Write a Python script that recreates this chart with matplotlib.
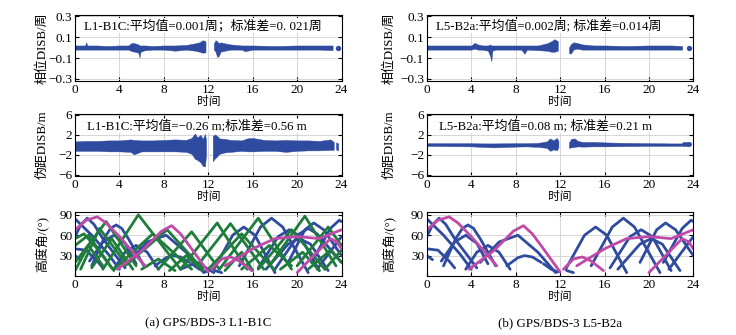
import matplotlib
matplotlib.use('Agg')
import matplotlib.pyplot as plt

plt.rcParams['font.family'] = ['Liberation Serif', 'Noto Sans CJK SC']
plt.rcParams['axes.unicode_minus'] = True

BLUE = '#2f4ba0'
GREEN = '#1f7d3c'
MAG = '#c04aa8'

# ---- phase DISB (cycles), envelope of the scatter band ----
ph_a_t1 = [0, 0.9, 1.0, 1.1, 2, 3, 4, 4.8, 5.1, 5.4, 5.7, 5.8, 5.9, 6.3, 7, 8, 9, 10, 10.8, 11.2, 11.5, 11.75]
ph_a_up1 = [0.02, 0.02, 0.05, 0.02, 0.02, 0.015, 0.02, 0.02, 0.045, 0.04, 0.03, 0.02, 0.02, 0.02, 0.015, 0.02, 0.02, 0.025, 0.04, 0.05, 0.07, 0.06]
ph_a_lo1 = [-0.02, -0.02, -0.02, -0.02, -0.02, -0.02, -0.02, -0.02, -0.035, -0.04, -0.05, -0.095, -0.04, -0.025, -0.02, -0.02, -0.03, -0.02, -0.03, -0.04, -0.05, -0.045]
ph_a_t2 = [12.5, 12.65, 12.8, 12.95, 13.1, 13.5, 14, 15, 15.3, 16, 18, 20, 22, 23.2]
ph_a_up2 = [0.04, 0.07, 0.06, 0.04, 0.05, 0.04, 0.03, 0.02, 0.02, 0.02, 0.015, 0.02, 0.02, 0.02]
ph_a_lo2 = [-0.02, -0.04, -0.09, -0.08, -0.04, -0.03, -0.02, -0.02, -0.035, -0.02, -0.02, -0.02, -0.02, -0.025]
ph_a_dots_t = [23.7]
ph_a_dots_v = [0.0]

ph_b_t1 = [0, 2, 4, 4.3, 4.6, 5, 5.5, 5.7, 5.8, 5.9, 6.2, 7, 8.5, 8.8, 9.0, 10, 10.8, 11.2, 11.5, 11.8]
ph_b_up1 = [0.02, 0.02, 0.02, 0.045, 0.03, 0.02, 0.02, 0.03, 0.02, 0.02, 0.02, 0.02, 0.02, 0.02, 0.02, 0.02, 0.04, 0.06, 0.08, 0.06]
ph_b_lo1 = [-0.02, -0.02, -0.02, -0.01, -0.02, -0.02, -0.03, -0.08, -0.13, -0.03, -0.02, -0.02, -0.02, -0.06, -0.02, -0.025, -0.03, -0.04, -0.04, -0.03]
ph_b_t2 = [12.8, 12.95, 13.2, 13.5, 14, 15, 16, 18, 20, 22, 23.0]
ph_b_up2 = [0.0, 0.03, 0.05, 0.045, 0.03, 0.02, 0.02, 0.015, 0.02, 0.02, 0.015]
ph_b_lo2 = [-0.05, -0.06, -0.02, -0.01, -0.02, -0.02, -0.02, -0.02, -0.02, -0.02, -0.02]
ph_b_dots_t = [23.6]
ph_b_dots_v = [0.0]

# ---- code DISB (m) ----
cd_a_t1 = [0, 1, 2, 3, 4, 5, 5.3, 6, 7, 8, 9, 10, 10.5, 10.8, 11.0, 11.3, 11.5, 11.7, 11.8]
cd_a_up1 = [0.7, 0.8, 0.8, 0.9, 0.9, 1.1, 1.0, 0.9, 0.9, 1.0, 1.1, 1.0, 1.4, 2.3, 1.5, 2.0, 1.2, 2.2, 1.0]
cd_a_lo1 = [-1.2, -1.2, -1.2, -1.3, -1.3, -1.4, -1.9, -1.3, -1.3, -1.3, -1.3, -1.4, -1.8, -2.8, -3.0, -3.5, -4.2, -4.3, -2.0]
cd_a_t2 = [12.4, 12.6, 12.8, 13, 13.5, 14, 15, 15.5, 16, 17, 18, 19, 20, 21, 22, 23, 23.3]
cd_a_up2 = [1.8, 2.1, 1.8, 1.3, 1.2, 1.0, 0.9, 1.3, 1.4, 1.0, 0.9, 1.0, 0.9, 0.9, 0.8, 1.1, 0.6]
cd_a_lo2 = [-3.3, -2.7, -2.3, -1.8, -1.5, -1.4, -1.2, -1.3, -1.3, -1.2, -1.2, -1.4, -1.2, -1.1, -1.1, -1.0, -1.0]
cd_a_t3 = [23.5, 23.7]
cd_a_up3 = [0.5, 0.3]
cd_a_lo3 = [-0.9, -1.1]
cd_a_dots_t = [12.3]
cd_a_dots_v = [3.3]

cd_b_t1 = [0, 2, 4, 5, 6, 8, 9, 10, 10.8, 11.1, 11.4, 11.7, 11.85]
cd_b_up1 = [0.35, 0.35, 0.35, 0.3, 0.3, 0.35, 0.35, 0.4, 0.7, 1.3, 0.9, 1.4, 0.8]
cd_b_lo1 = [-0.2, -0.25, -0.3, -0.4, -0.5, -0.35, -0.3, -0.4, -0.6, -1.2, -0.9, -1.1, -0.5]
cd_b_t2 = [12.8, 13.0, 13.3, 13.6, 14, 15, 16, 18, 20, 22, 23.0]
cd_b_up2 = [0.5, 1.2, 1.3, 0.8, 0.6, 0.6, 0.5, 0.4, 0.35, 0.3, 0.3]
cd_b_lo2 = [-0.6, -0.5, -0.4, -0.3, -0.35, -0.3, -0.3, -0.25, -0.2, -0.2, -0.2]
cd_b_dots_t = [23.2, 23.4, 23.6]
cd_b_dots_v = [0.1, 0.1, 0.1]

# ---- elevation arcs (hour, deg) ----
mag_arcs = [
    [(0, 68), (1, 82), (2, 87), (2.8, 78), (4, 58), (6.3, 15)],
    [(3.8, 10), (6, 37), (7.8, 66), (8.7, 74), (9.5, 62), (10.5, 40), (12, 6)],
    [(12.3, 10), (13.2, 25), (14, 28), (14.8, 22), (15.9, 8)],
    [(13.5, 15), (16, 40), (18, 55), (20, 58), (22, 55), (24, 68)],
    [(20, 5), (21.5, 30), (23, 55), (23.6, 50), (24, 40)],
]

gps_arcs = [
    [(0, 84), (1.5, 60), (3, 32), (4, 10)],
    [(0, 58), (0.5, 75), (1.1, 85), (1.7, 76), (2.5, 55), (4.5, 12)],
    [(0, 40), (1, 38), (2, 22), (2.5, 12)],
    [(0, 30), (0.5, 24)],
    [(1.5, 15), (2.6, 55), (3.2, 70), (3.7, 75), (4.2, 70), (4.8, 55), (6.2, 15)],
    [(1.3, 22), (2.5, 50), (3.5, 60), (4.5, 48), (5.5, 18)],
    [(3.5, 10), (4.5, 35), (5.5, 45), (6.5, 35), (7.5, 10)],
    [(4.8, 20), (6.5, 50), (8.2, 60), (10, 35), (11.6, 5)],
    [(7.2, 15), (8.2, 27), (8.8, 30), (9.5, 28), (10.3, 20)],
    [(10.5, 18), (11.2, 10), (11.8, 6)],
    [(12.5, 10), (14.2, 60), (15.2, 72), (16.2, 60), (18, 5)],
    [(14.8, 15), (16.7, 72), (17.7, 85), (18.7, 72), (21, 5)],
    [(16.5, 12), (18.3, 58), (19.3, 68), (20.3, 58), (22, 8)],
    [(19.2, 20), (20.7, 68), (21.5, 78), (22.4, 68), (24, 30)],
    [(21.3, 20), (23, 70), (23.8, 82), (24, 80)],
    [(21.8, 10), (24, 58)],
    [(17.2, 10), (19.2, 47), (20.2, 55), (21.2, 47), (22.8, 8)],
    [(12.6, 8), (13.2, 5)],
]
gps_extra_a = [
    [(18, 10), (20.2, 62), (21, 70), (21.8, 62), (24, 20)],
    [(9.5, 10), (11, 20), (12.5, 5)],
]

bds_arcs = [
    [(0, 8), (1.2, 45), (2.5, 15)],
    [(0, 20), (2.8, 80), (5.5, 15)],
    [(0, 45), (1.2, 60), (3.3, 12)],
    [(0, 55), (0.8, 62), (2.0, 40), (3.5, 8)],
    [(0.5, 10), (2.2, 70), (4.5, 20)],
    [(2.5, 10), (5.7, 90), (9.5, 10)],
    [(1.5, 12), (3.3, 55), (5.2, 10)],
    [(3.5, 10), (7.0, 62), (10.5, 10)],
    [(4.5, 15), (8.3, 68), (11.5, 10)],
    [(6, 10), (7.5, 25), (9, 8)],
    [(7.5, 10), (10.5, 65), (13, 10)],
    [(9.5, 10), (12.8, 78), (15.5, 10)],
    [(11, 15), (14, 77), (17, 10)],
    [(12, 10), (15, 62), (18, 8)],
    [(13, 10), (16.5, 85), (19.5, 10)],
    [(15, 10), (17.5, 45), (19.5, 15)],
    [(16.5, 10), (19.5, 68), (22.5, 10)],
    [(17.5, 15), (20.7, 88), (23.5, 15)],
    [(18.5, 10), (20.5, 35), (22, 8)],
    [(20, 15), (22.8, 72), (24, 45)],
    [(21, 10), (23, 38), (24, 20)],
    [(22.5, 10), (24, 38)],
    [(8.5, 8), (10, 30), (11.5, 8)],
    [(13.5, 8), (15, 35), (16, 8)],
]

xticks = [0, 4, 8, 12, 16, 20, 24]

fig = plt.figure(figsize=(7.36, 3.35), dpi=100)

cols = [0.102, 0.580]
ylab_x = [-0.098, -0.116]
w = 0.362
rows = [(0.758, 0.197), (0.475, 0.185), (0.176, 0.191)]


def style(ax, ylim, yticks, ylabel, lx):
    ax.set_xlim(0, 24)
    ax.set_ylim(*ylim)
    ax.set_xticks(xticks)
    ax.set_yticks(yticks)
    ax.grid(True, color='#d0d0d0', lw=0.6)
    ax.set_axisbelow(True)
    ax.tick_params(direction='in', length=3, labelsize=9.5, pad=2, top=True, right=True)
    ax.set_xlabel('时间', fontsize=8.5, labelpad=0)
    ax.set_ylabel(ylabel, fontsize=9.3)
    ax.yaxis.set_label_coords(lx, 0.5)
    for s in ax.spines.values():
        s.set_linewidth(0.8)


def band(ax, t, up, lo):
    ax.fill_between(t, lo, up, color=BLUE, lw=0.3, edgecolor=BLUE)


panels = [
    dict(ph=[(ph_a_t1, ph_a_up1, ph_a_lo1), (ph_a_t2, ph_a_up2, ph_a_lo2)], phd=(ph_a_dots_t, ph_a_dots_v),
         cd=[(cd_a_t1, cd_a_up1, cd_a_lo1), (cd_a_t2, cd_a_up2, cd_a_lo2), (cd_a_t3, cd_a_up3, cd_a_lo3)],
         cdd=(cd_a_dots_t, cd_a_dots_v),
         ph_txt='L1-B1C:平均值=0.001周；标准差=0. 021周',
         cd_txt='L1-B1C:平均值=−0.26 m;标准差=0.56 m',
         gps=gps_arcs + gps_extra_a, bds=bds_arcs,
         cap='(a) GPS/BDS-3 L1-B1C'),
    dict(ph=[(ph_b_t1, ph_b_up1, ph_b_lo1), (ph_b_t2, ph_b_up2, ph_b_lo2)], phd=(ph_b_dots_t, ph_b_dots_v),
         cd=[(cd_b_t1, cd_b_up1, cd_b_lo1), (cd_b_t2, cd_b_up2, cd_b_lo2)],
         cdd=(cd_b_dots_t, cd_b_dots_v),
         ph_txt='L5-B2a:平均值=0.002周; 标准差=0.014周',
         cd_txt='L5-B2a:平均值=0.08 m; 标准差=0.21 m',
         gps=gps_arcs, bds=[],
         cap='(b) GPS/BDS-3 L5-B2a'),
]

box = dict(facecolor='white', edgecolor='none', pad=0.5)

for x0, lx, p in zip(cols, ylab_x, panels):
    # phase
    ax1 = fig.add_axes([x0, rows[0][0], w, rows[0][1]])
    for t, up, lo in p['ph']:
        band(ax1, t, up, lo)
    ax1.scatter(*p['phd'], s=8, color=BLUE, zorder=3)
    style(ax1, (-0.32, 0.31), [-0.3, -0.1, 0.1, 0.3], '相位DISB/周', lx)
    ax1.set_yticklabels(['−0.3', '−0.1', '0.1', '0.3'])
    ax1.text(0.035, 0.84, p['ph_txt'], transform=ax1.transAxes, fontsize=9.3, va='center', bbox=box)

    # code
    ax2 = fig.add_axes([x0, rows[1][0], w, rows[1][1]])
    for t, up, lo in p['cd']:
        band(ax2, t, up, lo)
    ax2.scatter(*p['cdd'], s=6, color=BLUE, zorder=3)
    style(ax2, (-6.2, 6.2), [-6, -2, 2, 6], '伪距DISB/m', lx)
    ax2.text(0.045, 0.81, p['cd_txt'], transform=ax2.transAxes, fontsize=9.3, va='center', bbox=box)

    # elevation
    ax3 = fig.add_axes([x0, rows[2][0], w, rows[2][1]])
    for arc in p['gps']:
        tt, ee = zip(*arc)
        ax3.plot(tt, ee, color=BLUE, lw=2.0, solid_capstyle='round', solid_joinstyle='round')
    for arc in p['bds']:
        tt, ee = zip(*arc)
        ax3.plot(tt, ee, color=GREEN, lw=2.0, solid_capstyle='round')
    for arc in mag_arcs:
        tt, ee = zip(*arc)
        ax3.plot(tt, ee, color=MAG, lw=2.0, solid_capstyle='round', solid_joinstyle='round')
    style(ax3, (0, 94), [30, 60, 90], '高度角/(°)', lx)
    fig.text(x0 + w / 2, 0.035, p['cap'], ha='center', va='center', fontsize=9.3)

fig.savefig('out.png', dpi=100)
